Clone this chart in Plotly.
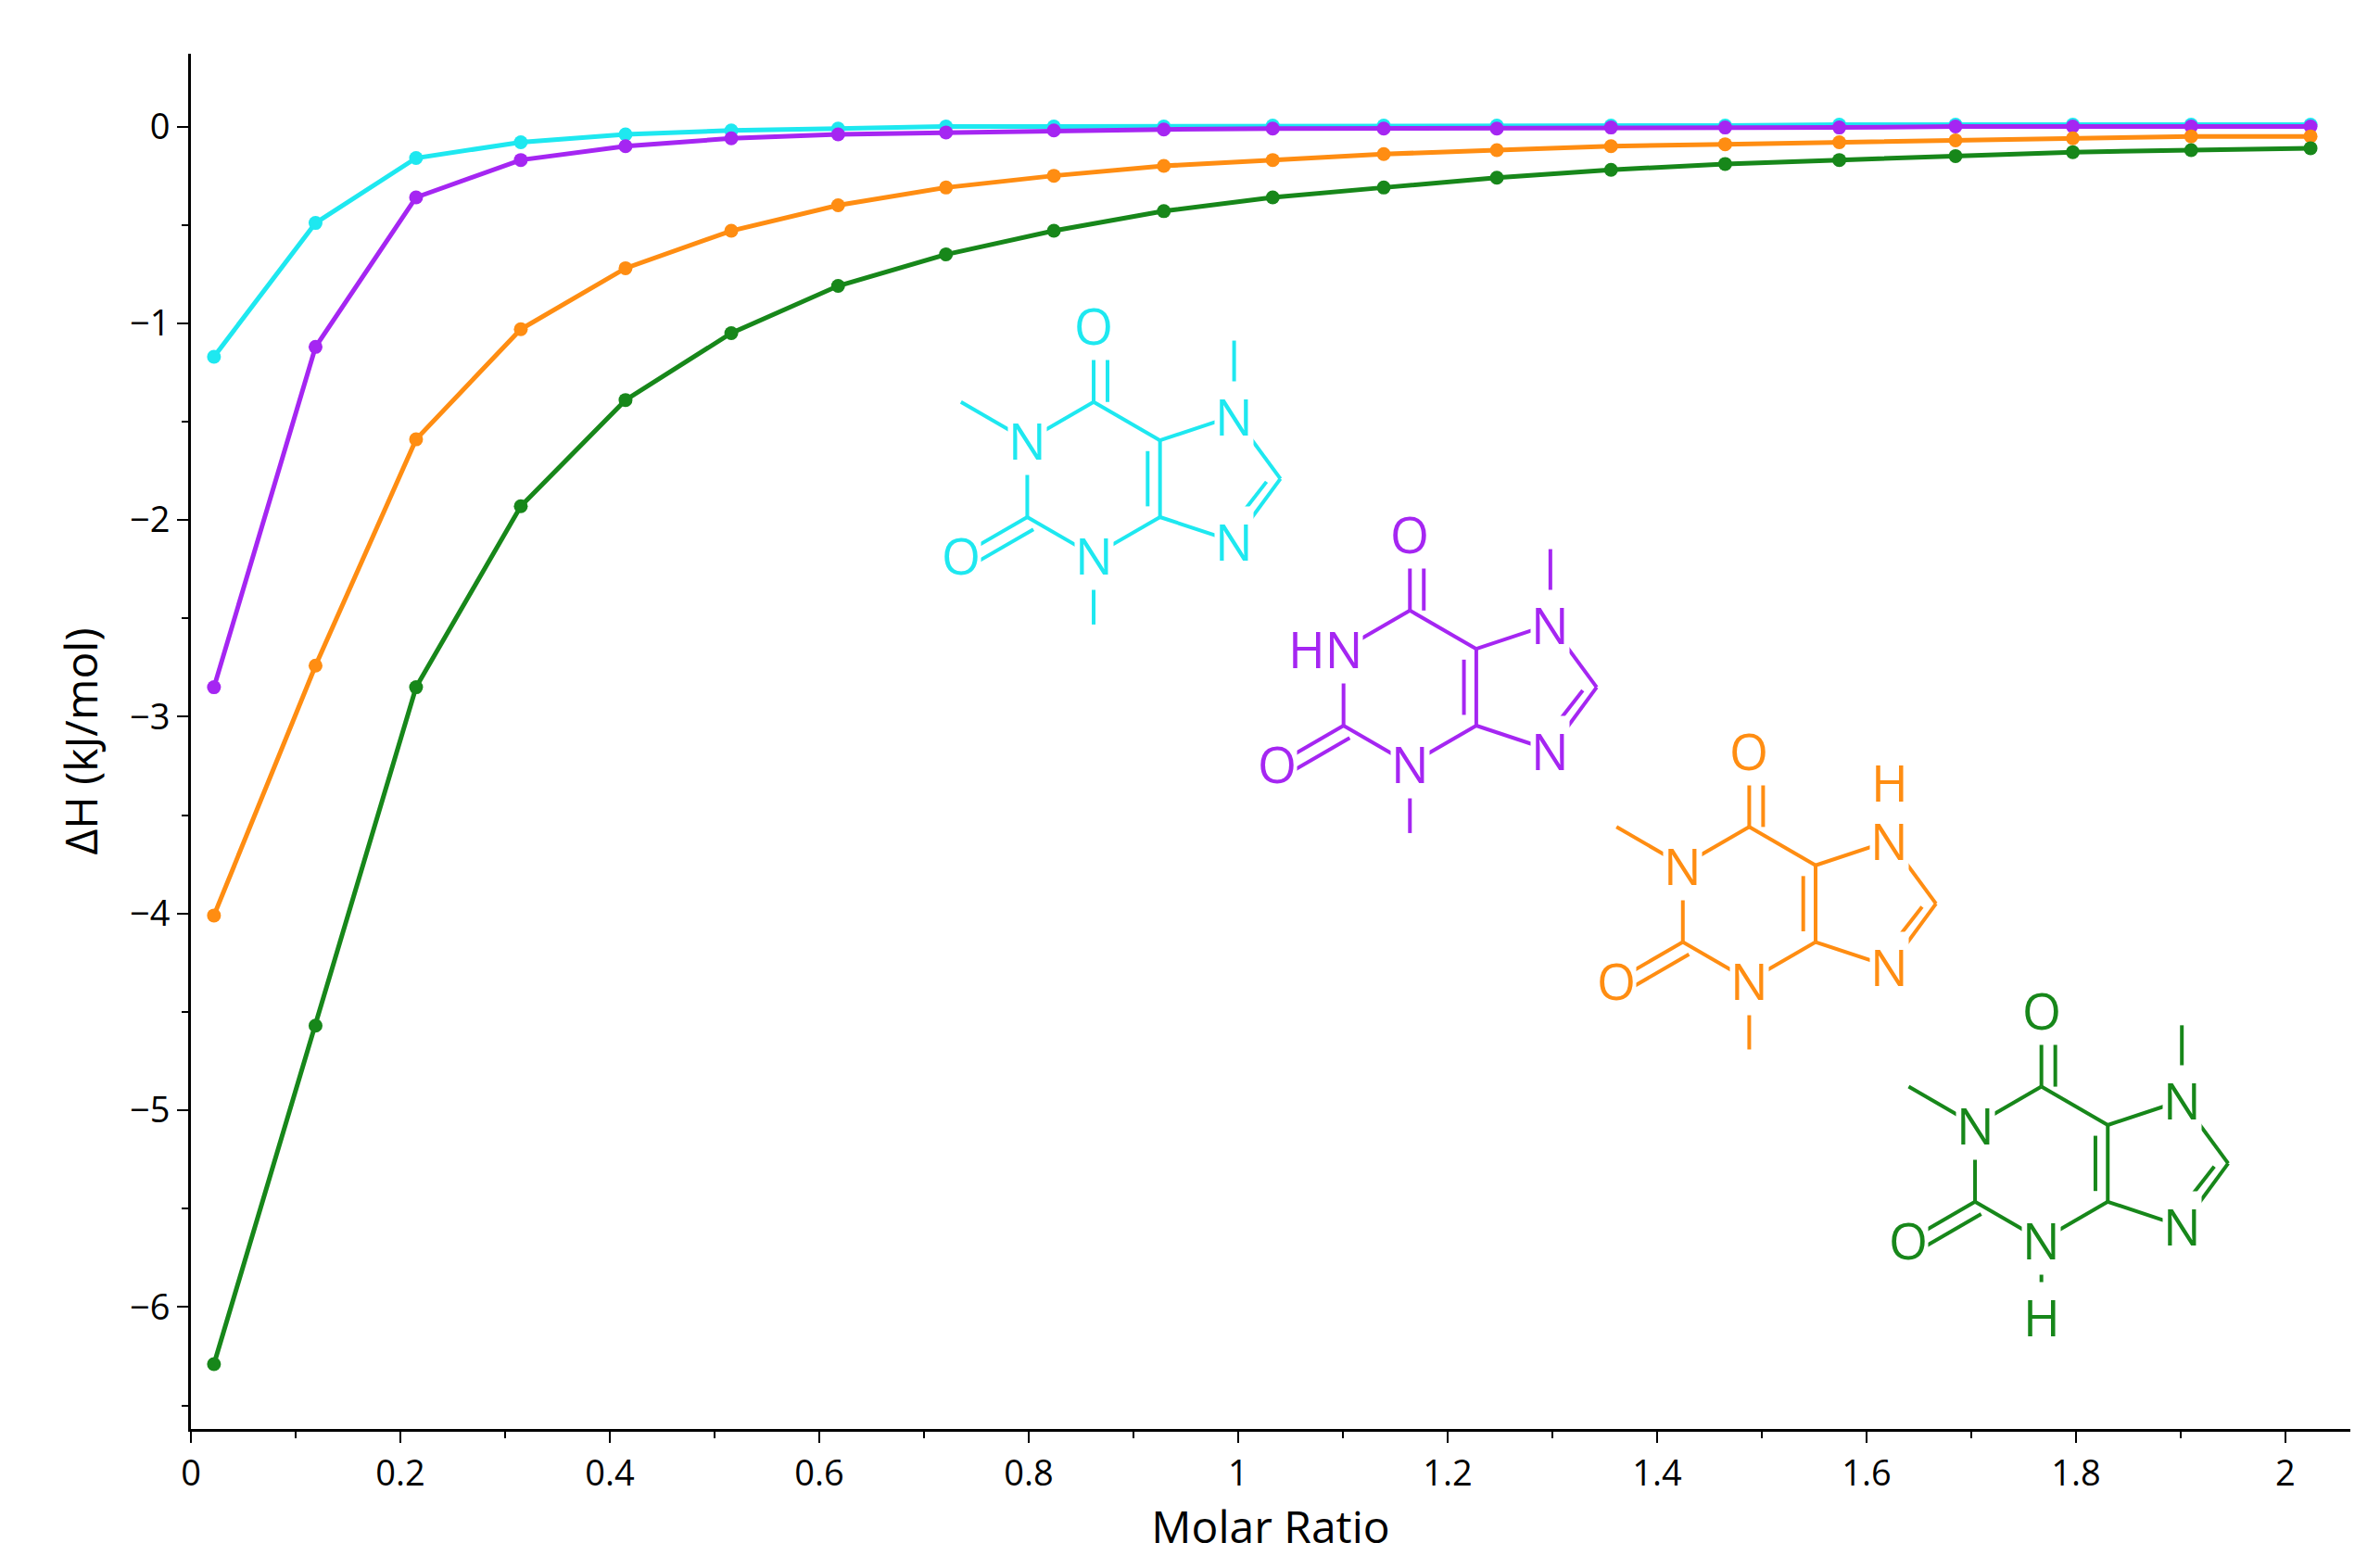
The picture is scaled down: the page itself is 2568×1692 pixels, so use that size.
import plotly.graph_objects as go

# Molar ratio of each injection
molar_ratio = [0.022, 0.119, 0.215, 0.315, 0.415, 0.516, 0.618, 0.721, 0.824, 0.929,
               1.033, 1.139, 1.247, 1.356, 1.465, 1.574, 1.685, 1.797, 1.910, 2.024]

# Heat per injection (kJ/mol)
dh_caffeine = [-1.17, -0.49, -0.16, -0.08, -0.04, -0.02, -0.01, 0.0, 0.0, 0.0,
               0.005, 0.005, 0.005, 0.005, 0.005, 0.01, 0.01, 0.01, 0.01, 0.01]
dh_theobromine = [-2.85, -1.12, -0.36, -0.17, -0.10, -0.06, -0.04, -0.03, -0.02, -0.015,
                  -0.01, -0.01, -0.01, -0.005, -0.005, -0.005, 0.0, 0.0, 0.0, 0.0]
dh_theophylline = [-4.01, -2.74, -1.59, -1.03, -0.72, -0.53, -0.40, -0.31, -0.25, -0.20,
                   -0.17, -0.14, -0.12, -0.10, -0.09, -0.08, -0.07, -0.06, -0.05, -0.05]
dh_paraxanthine = [-6.29, -4.57, -2.85, -1.93, -1.39, -1.05, -0.81, -0.65, -0.53, -0.43,
                   -0.36, -0.31, -0.26, -0.22, -0.19, -0.17, -0.15, -0.13, -0.12, -0.11]

CYAN = '#1ee8f0'
PURPLE = '#a526f2'
ORANGE = '#ff8d12'
GREEN = '#17871a'

series = [('Caffeine', dh_caffeine, CYAN),
          ('Theobromine', dh_theobromine, PURPLE),
          ('Theophylline', dh_theophylline, ORANGE),
          ('Paraxanthine', dh_paraxanthine, GREEN)]

# Structure drawings: ring centre (in data units) and substituents
# (n1, n3, n7) -> 'Me' or 'H'
structures = [(0.862, -1.79, CYAN, ('Me', 'Me', 'Me')),
              (1.164, -2.85, PURPLE, ('H', 'Me', 'Me')),
              (1.488, -3.95, ORANGE, ('Me', 'Me', 'H')),
              (1.767, -5.27, GREEN, ('Me', 'H', 'Me'))]

PX_X = 1 / 678.5   # data units per reference pixel, x
PX_Y = 1 / 128.2   # data units per reference pixel, y


def add_structure(fig, cx, cy, color, subs):
    def p(dx, dy):
        return (cx + dx * PX_X, cy - dy * PX_Y)

    atoms = {'C6': p(0, -50), 'C5': p(43, -25), 'C4': p(43, 25), 'N3': p(0, 50),
             'C2': p(-43, 25), 'N1': p(-43, -25), 'O6': p(0, -100), 'O2': p(-86, 50),
             'N7': p(91, -41), 'C8': p(121, 0), 'N9': p(91, 41)}
    bonds = [('C6', 'C5'), ('C5', 'C4'), ('C4', 'N3'), ('N3', 'C2'), ('C2', 'N1'),
             ('N1', 'C6'), ('C5', 'N7'), ('N7', 'C8'), ('C8', 'N9'), ('N9', 'C4'),
             ('C6', 'O6'), ('C2', 'O2')]

    def line(a, b, off=(0, 0)):
        fig.add_shape(type='line', x0=a[0] + off[0] * PX_X, y0=a[1] - off[1] * PX_Y,
                      x1=b[0] + off[0] * PX_X, y1=b[1] - off[1] * PX_Y,
                      line=dict(color=color, width=4), layer='above')

    for a, b in bonds:
        line(atoms[a], atoms[b])
    # double bonds
    line(atoms['C6'], atoms['O6'], (9, 0))
    line(atoms['C2'], atoms['O2'], (4, 8))
    line(p(35, -18), p(35, 18))
    line(p(112, 2), p(88, 33))

    n1, n3, n7 = subs
    if n1 == 'Me':
        line(atoms['N1'], p(-86, -50))
    if n3 == 'Me':
        line(atoms['N3'], p(0, 95))
    else:
        line(atoms['N3'], p(0, 80))
    if n7 == 'Me':
        line(atoms['N7'], p(91, -90))

    labels = [('O6', 'O'), ('O2', 'O'), ('N3', 'N'), ('N7', 'N'), ('N9', 'N')]
    labels.append(('N1', 'HN' if n1 == 'H' else 'N'))
    for key, txt in labels:
        x, y = atoms[key]
        if txt == 'HN':
            x -= 12 * PX_X
        fig.add_annotation(x=x, y=y, text=txt, showarrow=False, bgcolor='white',
                           borderpad=0, font=dict(size=54, color=color))
    if n3 == 'H':
        x, y = p(0, 100)
        fig.add_annotation(x=x, y=y, text='H', showarrow=False, bgcolor='white',
                           borderpad=0, font=dict(size=54, color=color))
    if n7 == 'H':
        x, y = p(91, -79)
        fig.add_annotation(x=x, y=y, text='H', showarrow=False,
                           borderpad=0, font=dict(size=54, color=color))


def main():
    fig = go.Figure()
    for name, vals, color in series:
        fig.add_trace(go.Scatter(x=molar_ratio, y=vals, mode='lines+markers', name=name,
                                 line=dict(color=color, width=5),
                                 marker=dict(color=color, size=15)))
    for cx, cy, color, subs in structures:
        add_structure(fig, cx, cy, color, subs)

    axis_common = dict(showline=True, linecolor='black', linewidth=3, ticks='outside',
                       ticklen=12, tickwidth=2, tickcolor='black', showgrid=False,
                       zeroline=False, tickfont=dict(size=38, color='black'),
                       mirror=False)
    fig.update_xaxes(range=[0, 2.062], dtick=0.2, tick0=0,
                     minor=dict(dtick=0.1, ticks='outside', ticklen=7, tickcolor='black'),
                     title=dict(text='Molar Ratio', font=dict(size=48, color='black'),
                                standoff=6),
                     **axis_common)
    fig.update_yaxes(range=[-6.62, 0.37], dtick=1, tick0=0,
                     minor=dict(dtick=0.5, ticks='outside', ticklen=7, tickcolor='black'),
                     title=dict(text='ΔH (kJ/mol)', font=dict(size=48, color='black'),
                                standoff=20),
                     **axis_common)
    fig.update_layout(width=2568, height=1692, showlegend=False,
                      plot_bgcolor='white', paper_bgcolor='white',
                      font=dict(family='Open Sans'),
                      margin=dict(l=198, r=40, t=50, b=158))
    fig.write_html('out.html')


if __name__ == '__main__':
    main()
